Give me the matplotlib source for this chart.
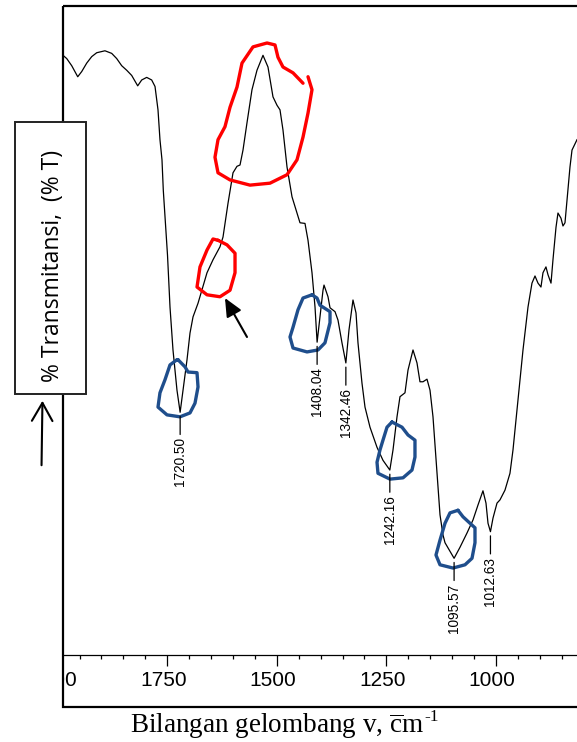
import matplotlib
matplotlib.use("Agg")
import matplotlib.pyplot as plt
from matplotlib.patches import Rectangle, FancyArrowPatch
from matplotlib.transforms import (Affine2D, Bbox, TransformedBbox,
                                   blended_transform_factory, ScaledTranslation)
from matplotlib.ticker import FixedLocator, MultipleLocator

plt.rcParams["font.family"] = ["Liberation Sans", "DejaVu Sans"]
plt.rcParams["mathtext.fontset"] = "custom"
plt.rcParams["mathtext.rm"] = "Liberation Serif"
plt.rcParams["mathtext.it"] = "Liberation Serif:italic"

# ---- FTIR spectrum (wavenumber in cm-1, transmittance in %) ----
wavenumber = [
    1987.7, 1979.2, 1967.8, 1954.1, 1945.0, 1933.6, 1922.2, 1910.8, 1892.0, 1876.6,
    1865.2, 1853.8, 1842.4, 1831.0, 1817.3, 1808.2, 1796.8, 1785.4, 1777.8, 1771.0,
    1766.5, 1761.9, 1758.9, 1753.9, 1749.3, 1743.6, 1736.8, 1727.7, 1720.50, 1714.0,
    1704.8, 1698.0, 1691.1, 1679.7, 1659.2, 1645.5, 1629.6, 1622.7, 1611.3, 1599.9,
    1590.8, 1583.9, 1577.1, 1568.0, 1556.6, 1545.2, 1531.5, 1520.1, 1508.7, 1499.5,
    1492.7, 1485.9, 1476.7, 1465.3, 1453.9, 1447.1, 1435.7, 1428.8, 1419.7, 1412.8,
    1408.04, 1401.5, 1394.6, 1392.3, 1383.2, 1378.6, 1367.2, 1360.4, 1351.3, 1342.46,
    1335.3, 1326.2, 1319.3, 1314.8, 1305.7, 1298.8, 1287.4, 1271.4, 1257.8, 1242.16,
    1234.9, 1225.8, 1219.0, 1207.6, 1200.7, 1189.3, 1180.2, 1173.4, 1166.5, 1157.4,
    1150.5, 1143.7, 1134.6, 1127.7, 1120.9, 1116.3, 1095.57, 1082.1, 1066.1, 1052.5,
    1041.1, 1029.7, 1022.8, 1018.2, 1012.63, 1006.8, 997.7, 990.9, 979.5, 968.1,
    961.2, 949.8, 938.4, 927.0, 917.9, 911.0, 904.2, 897.4, 892.8, 886.0,
    881.4, 874.5, 870.0, 863.1, 858.6, 851.7, 847.2, 842.6, 838.0, 831.2,
    826.6, 815.2,
]
transmittance = [
    92.4, 91.9, 90.8, 89.1, 89.9, 91.2, 92.2, 92.8, 93.1, 92.7,
    91.9, 90.8, 90.1, 89.3, 87.7, 88.6, 89.0, 88.6, 87.6, 84.0,
    79.4, 76.3, 71.6, 66.3, 61.6, 53.6, 47.0, 40.8, 37.4, 40.8,
    45.5, 49.6, 52.1, 54.2, 58.9, 60.9, 62.9, 64.4, 69.6, 74.3,
    75.3, 75.5, 77.8, 82.0, 87.1, 90.1, 92.4, 90.6, 86.0, 84.7,
    84.0, 80.9, 75.2, 70.6, 68.1, 66.6, 66.5, 63.9, 58.9, 53.6,
    48.2, 52.1, 56.2, 57.0, 55.2, 53.5, 52.9, 51.6, 48.1, 45.0,
    50.1, 54.7, 52.7, 48.1, 41.9, 38.2, 35.1, 32.0, 30.0, 28.5,
    31.6, 36.7, 39.8, 40.4, 43.9, 47.0, 45.0, 42.1, 42.1, 42.5,
    40.8, 36.7, 28.2, 21.6, 18.5, 17.3, 14.9, 16.6, 18.8, 20.8,
    23.1, 25.3, 23.4, 20.3, 19.0, 21.1, 23.4, 23.9, 25.4, 28.0,
    31.6, 39.3, 47.0, 53.6, 57.3, 58.4, 57.3, 56.7, 58.9, 59.8,
    58.6, 57.3, 60.9, 65.9, 68.1, 67.3, 66.1, 66.6, 70.1, 75.2,
    77.8, 79.4,
]

# labelled absorption bands
band_positions = [1720.50, 1408.04, 1342.46, 1242.16, 1095.57, 1012.63]

x_major_ticks = [2000, 1750, 1500, 1250, 1000]
x_tick_labels = ["2000", "1750", "1500", "1250", "1000"]

# hand-drawn highlight loops (wavenumber, %T)
big_red_loop = [
    (1440.2, 88.1), (1463.0, 89.7), (1485.9, 90.6), (1497.3, 92.1), (1504.1, 94.0),
    (1522.3, 94.3), (1554.3, 93.7), (1579.4, 91.2), (1590.8, 87.5), (1606.7, 84.4),
    (1618.2, 81.4), (1634.1, 79.4), (1641.0, 76.7), (1634.1, 74.3), (1606.7, 73.2),
    (1561.1, 72.4), (1515.5, 72.7), (1476.7, 74.0), (1453.9, 76.3), (1440.2, 79.8),
    (1428.8, 83.5), (1419.7, 87.1), (1428.8, 89.1),
]
small_red_loop = [
    (1634.1, 63.9), (1613.6, 63.2), (1595.3, 61.9), (1595.3, 58.9), (1606.7, 56.2),
    (1629.6, 55.2), (1659.2, 55.5), (1682.0, 56.7), (1675.2, 59.8), (1659.2, 62.4),
    (1645.5, 64.1), (1634.1, 63.9),
]
blue_loops = [
    [(1725.4, 45.5), (1709.4, 44.4), (1702.5, 43.6), (1682.0, 43.5), (1679.7, 41.3),
     (1686.6, 38.8), (1698.0, 37.3), (1720.8, 36.7), (1750.5, 37.0), (1771.0, 38.2),
     (1766.5, 40.4), (1755.1, 42.4), (1743.6, 44.7), (1727.7, 45.5), (1725.4, 45.5)],
    [(1419.7, 55.5), (1408.3, 55.0), (1401.5, 53.9), (1378.6, 52.9), (1378.6, 51.2),
     (1390.1, 48.1), (1406.0, 47.0), (1431.1, 46.7), (1463.0, 47.3), (1469.9, 49.0),
     (1463.0, 50.5), (1451.6, 53.2), (1440.2, 55.0), (1419.7, 55.5)],
    [(1237.2, 35.9), (1214.4, 35.1), (1200.7, 33.9), (1184.8, 33.1), (1184.8, 30.5),
     (1191.6, 28.5), (1212.1, 27.3), (1241.8, 27.1), (1269.2, 28.0), (1271.4, 29.7),
     (1264.6, 31.6), (1257.8, 33.1), (1248.6, 35.1), (1237.2, 35.9)],
    [(1086.7, 22.3), (1075.3, 21.3), (1059.3, 20.3), (1047.9, 19.6), (1047.9, 17.3),
     (1054.7, 14.9), (1070.7, 13.9), (1098.1, 13.4), (1127.7, 13.9), (1136.9, 15.4),
     (1127.7, 17.7), (1116.3, 20.3), (1104.9, 21.9), (1086.7, 22.3)],
]
pointer_tail = (1568.0, 49.0)
pointer_tip = (1618.2, 55.0)

# ---- figure layout ----
W, H = 577, 742
fig = plt.figure(figsize=(W / 100, H / 100), dpi=100)
fig.patch.set_facecolor("white")
px = Affine2D().scale(1 / W, -1 / H).translate(0, 1) + fig.transFigure
shift_left = ScaledTranslation(-4 / 100, 0, fig.dpi_scale_trans)

ax_left, ax_top, ax_bottom = 63, 6, 655
ax = fig.add_axes([ax_left / W, 1 - ax_bottom / H, (W - ax_left) / W, (ax_bottom - ax_top) / H])
ax.set_xlim(1987.7, 815.2)
ax.set_ylim(0, 100)
ax.patch.set_alpha(0)

ax.plot(wavenumber, transmittance, color="black", lw=0.9, solid_joinstyle="round")

for spine in ("top", "left", "right"):
    ax.spines[spine].set_visible(False)
ax.spines["bottom"].set_linewidth(0.9)
ax.set_yticks([])
ax.xaxis.set_major_locator(FixedLocator(x_major_ticks))
ax.set_xticklabels(x_tick_labels)
ax.xaxis.set_minor_locator(MultipleLocator(50))
ax.tick_params(axis="x", which="major", length=8, width=0.9, pad=3.5, labelsize=15)
ax.tick_params(axis="x", which="minor", length=3, width=0.9)

# first tick label sits partly behind the frame edge
lab = fig.text(2000, ax_bottom + (8 + 3.5) * 100 / 72, "2000", fontsize=15,
               ha="center", va="top",
               transform=blended_transform_factory(ax.transData, px) + shift_left)
lab.set_clip_box(TransformedBbox(Bbox([[ax_left / W, 0], [1, 1]]), fig.transFigure))
lab.set_clip_on(True)

# band labels with leader lines
for v in band_positions:
    t = transmittance[wavenumber.index(v)]
    ax.annotate(f"{v:.2f}", xy=(v, t), xytext=(0, -25), textcoords="offset pixels",
                rotation=90, ha="center", va="top", fontsize=9.8,
                arrowprops=dict(arrowstyle="-", lw=0.9, color="black",
                                shrinkA=0, shrinkB=3, relpos=(0.5, 1.0)))

# highlight loops
bx, by = zip(*big_red_loop)
ax.plot(bx, by, color="#ff0000", lw=2.4, solid_capstyle="round", solid_joinstyle="round")
sx, sy = zip(*small_red_loop)
ax.plot(sx, sy, color="#ff0000", lw=2.4, solid_capstyle="round", solid_joinstyle="round")
for loop in blue_loops:
    lx, ly = zip(*loop)
    ax.plot(lx, ly, color="#1f4e8c", lw=2.4, solid_capstyle="round", solid_joinstyle="round")

ax.annotate("", xy=pointer_tip, xytext=pointer_tail,
            arrowprops=dict(arrowstyle="-|>,head_length=0.55,head_width=0.25",
                            mutation_scale=20, lw=1.5, color="black",
                            shrinkA=0, shrinkB=0))

# outer frame
frame = Rectangle((ax_left, ax_top), 700, 707 - ax_top, transform=px, fill=False,
                  lw=1.6, edgecolor="black", zorder=2)
fig.add_artist(frame)

# y-axis caption in a box
ybox = Rectangle((15, 122), 71, 272, transform=px, facecolor="white",
                 edgecolor="#222222", lw=1.4, zorder=5)
fig.add_artist(ybox)
fig.text(53, 266, "% Transmitansi,  (% T)", transform=px, rotation=90,
         ha="center", va="center", fontsize=16.5, family=["Open Sans", "DejaVu Sans"],
         zorder=6)
up_arrow = FancyArrowPatch((41.5, 468), (42.5, 398), transform=px,
                           arrowstyle="->,head_length=0.65,head_width=0.37",
                           mutation_scale=20, lw=1.5, color="black", zorder=6)
fig.add_artist(up_arrow)

# x-axis caption with a superscript exponent
xcap = fig.text(130, 733, r"Bilangan gelombang v, $\overline{\mathrm{c}}$m",
                transform=px, ha="left", va="baseline", fontsize=19.5,
                family=["Liberation Serif", "DejaVu Serif"])
fig.add_artist(matplotlib.text.Annotation(
    "-1", xy=(1.0, 0.82), xycoords=xcap, xytext=(0, 0), textcoords="offset pixels",
    ha="left", va="center", fontsize=12.5, family=["Liberation Serif", "DejaVu Serif"]))

fig.canvas.draw()
for tick in ax.xaxis.get_major_ticks():
    tick.label1.set_transform(tick.label1.get_transform() + shift_left)

fig.savefig("out.png", dpi=100)
